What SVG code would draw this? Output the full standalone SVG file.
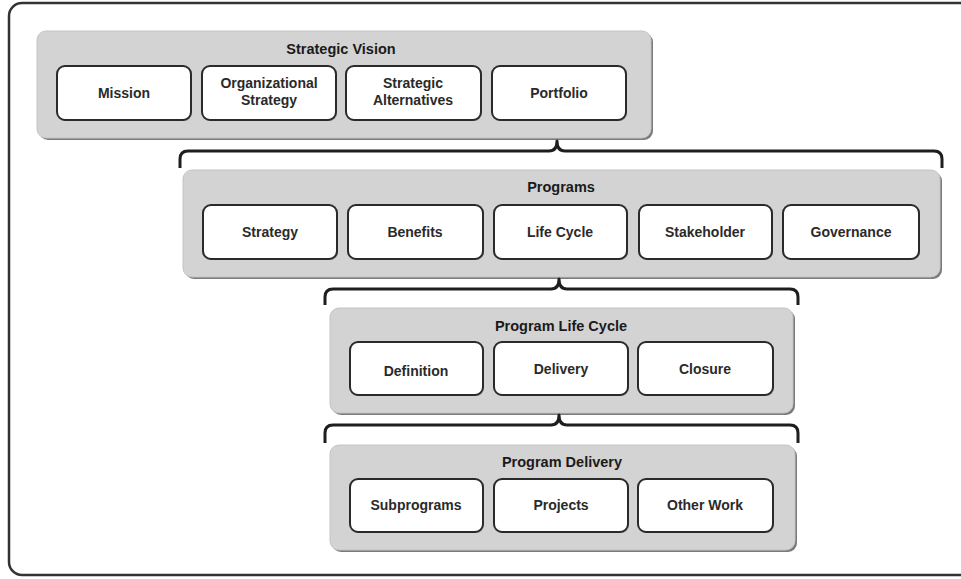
<svg xmlns="http://www.w3.org/2000/svg" width="961" height="579" viewBox="0 0 961 579">
<defs>
<style>
.frame{fill:#fff;stroke:#333;stroke-width:2.5}
.panel{fill:#d3d3d4;stroke:#c4c4c4;stroke-width:1}
.pshadow{fill:#7a7a7a}
.box{fill:#fff;stroke:#2a2a2a;stroke-width:2}
.bshadow{fill:#9a9a9a}
.title{font-family:"Liberation Sans",Arial,sans-serif;font-weight:bold;font-size:14.5px;fill:#1a1a1a;text-anchor:middle}
.lbl{font-family:"Liberation Sans",Arial,sans-serif;font-weight:bold;font-size:14px;fill:#2a2a2a;text-anchor:middle}
.brace{fill:none;stroke:#1e1e1e;stroke-width:3;stroke-linejoin:round}
</style>
</defs>
<rect class="frame" x="9" y="3" width="970" height="572" rx="13"/>

<g id="strategic-vision">
<rect class="pshadow" x="39" y="33" width="614" height="107" rx="9"/>
<rect class="panel" x="37" y="31" width="614" height="107" rx="9"/>
<text class="title" x="341" y="54">Strategic Vision</text>
<g id="mission"><rect class="bshadow" x="58" y="67" width="134" height="54" rx="8"/><rect class="box" x="57" y="66" width="134" height="54" rx="8"/><text class="lbl" x="124" y="98">Mission</text></g>
<g id="organizational-strategy"><rect class="bshadow" x="203" y="67" width="134" height="54" rx="8"/><rect class="box" x="202" y="66" width="134" height="54" rx="8"/><text class="lbl" x="269" y="88">Organizational</text><text class="lbl" x="269" y="105">Strategy</text></g>
<g id="strategic-alternatives"><rect class="bshadow" x="347" y="67" width="135" height="54" rx="8"/><rect class="box" x="346" y="66" width="135" height="54" rx="8"/><text class="lbl" x="413" y="88">Strategic</text><text class="lbl" x="413" y="105">Alternatives</text></g>
<g id="portfolio"><rect class="bshadow" x="493" y="67" width="134" height="54" rx="8"/><rect class="box" x="492" y="66" width="134" height="54" rx="8"/><text class="lbl" x="559" y="98">Portfolio</text></g>
</g>

<g id="programs">
<rect class="pshadow" x="185" y="172" width="757" height="107" rx="9"/>
<rect class="panel" x="183" y="170" width="757" height="107" rx="9"/>
<text class="title" x="561" y="192">Programs</text>
<g id="strategy"><rect class="bshadow" x="204" y="206" width="134" height="54" rx="8"/><rect class="box" x="203" y="205" width="134" height="54" rx="8"/><text class="lbl" x="270" y="237">Strategy</text></g>
<g id="benefits"><rect class="bshadow" x="349" y="206" width="135" height="54" rx="8"/><rect class="box" x="348" y="205" width="135" height="54" rx="8"/><text class="lbl" x="415" y="237">Benefits</text></g>
<g id="life-cycle"><rect class="bshadow" x="495" y="206" width="133" height="54" rx="8"/><rect class="box" x="494" y="205" width="133" height="54" rx="8"/><text class="lbl" x="560" y="237">Life Cycle</text></g>
<g id="stakeholder"><rect class="bshadow" x="640" y="206" width="133" height="54" rx="8"/><rect class="box" x="639" y="205" width="133" height="54" rx="8"/><text class="lbl" x="705" y="237">Stakeholder</text></g>
<g id="governance"><rect class="bshadow" x="784" y="206" width="136" height="54" rx="8"/><rect class="box" x="783" y="205" width="136" height="54" rx="8"/><text class="lbl" x="851" y="237">Governance</text></g>
</g>

<g id="program-life-cycle">
<rect class="pshadow" x="332" y="310" width="463" height="105" rx="9"/>
<rect class="panel" x="330" y="308" width="463" height="105" rx="9"/>
<text class="title" x="561" y="331">Program Life Cycle</text>
<g id="definition"><rect class="bshadow" x="351" y="343" width="133" height="53" rx="8"/><rect class="box" x="350" y="342" width="133" height="53" rx="8"/><text class="lbl" x="416" y="376">Definition</text></g>
<g id="delivery"><rect class="bshadow" x="495" y="343" width="134" height="53" rx="8"/><rect class="box" x="494" y="342" width="134" height="53" rx="8"/><text class="lbl" x="561" y="374">Delivery</text></g>
<g id="closure"><rect class="bshadow" x="639" y="343" width="135" height="53" rx="8"/><rect class="box" x="638" y="342" width="135" height="53" rx="8"/><text class="lbl" x="705" y="374">Closure</text></g>
</g>

<g id="program-delivery">
<rect class="pshadow" x="332" y="447" width="465" height="105" rx="9"/>
<rect class="panel" x="330" y="445" width="465" height="105" rx="9"/>
<text class="title" x="562" y="467">Program Delivery</text>
<g id="subprograms"><rect class="bshadow" x="351" y="480" width="133" height="53" rx="8"/><rect class="box" x="350" y="479" width="133" height="53" rx="8"/><text class="lbl" x="416" y="510">Subprograms</text></g>
<g id="projects"><rect class="bshadow" x="495" y="480" width="134" height="53" rx="8"/><rect class="box" x="494" y="479" width="134" height="53" rx="8"/><text class="lbl" x="561" y="510">Projects</text></g>
<g id="other-work"><rect class="bshadow" x="639" y="480" width="135" height="53" rx="8"/><rect class="box" x="638" y="479" width="135" height="53" rx="8"/><text class="lbl" x="705" y="510">Other Work</text></g>
</g>

<g id="connectors">
<path class="brace" d="M180,168 L180,159 Q180,151 188,151 L549,151 Q557,151 557,141 Q557,151 565,151 L934,151 Q942,151 942,159 L942,168"/>
<path class="brace" d="M325,305 L325,297 Q325,289 333,289 L551,289 Q559,289 559,279 Q559,289 567,289 L790,289 Q798,289 798,297 L798,305"/>
<path class="brace" d="M325,443 L325,433 Q325,425 333,425 L551,425 Q559,425 559,415 Q559,425 567,425 L790,425 Q798,425 798,433 L798,443"/>
</g>
</svg>
